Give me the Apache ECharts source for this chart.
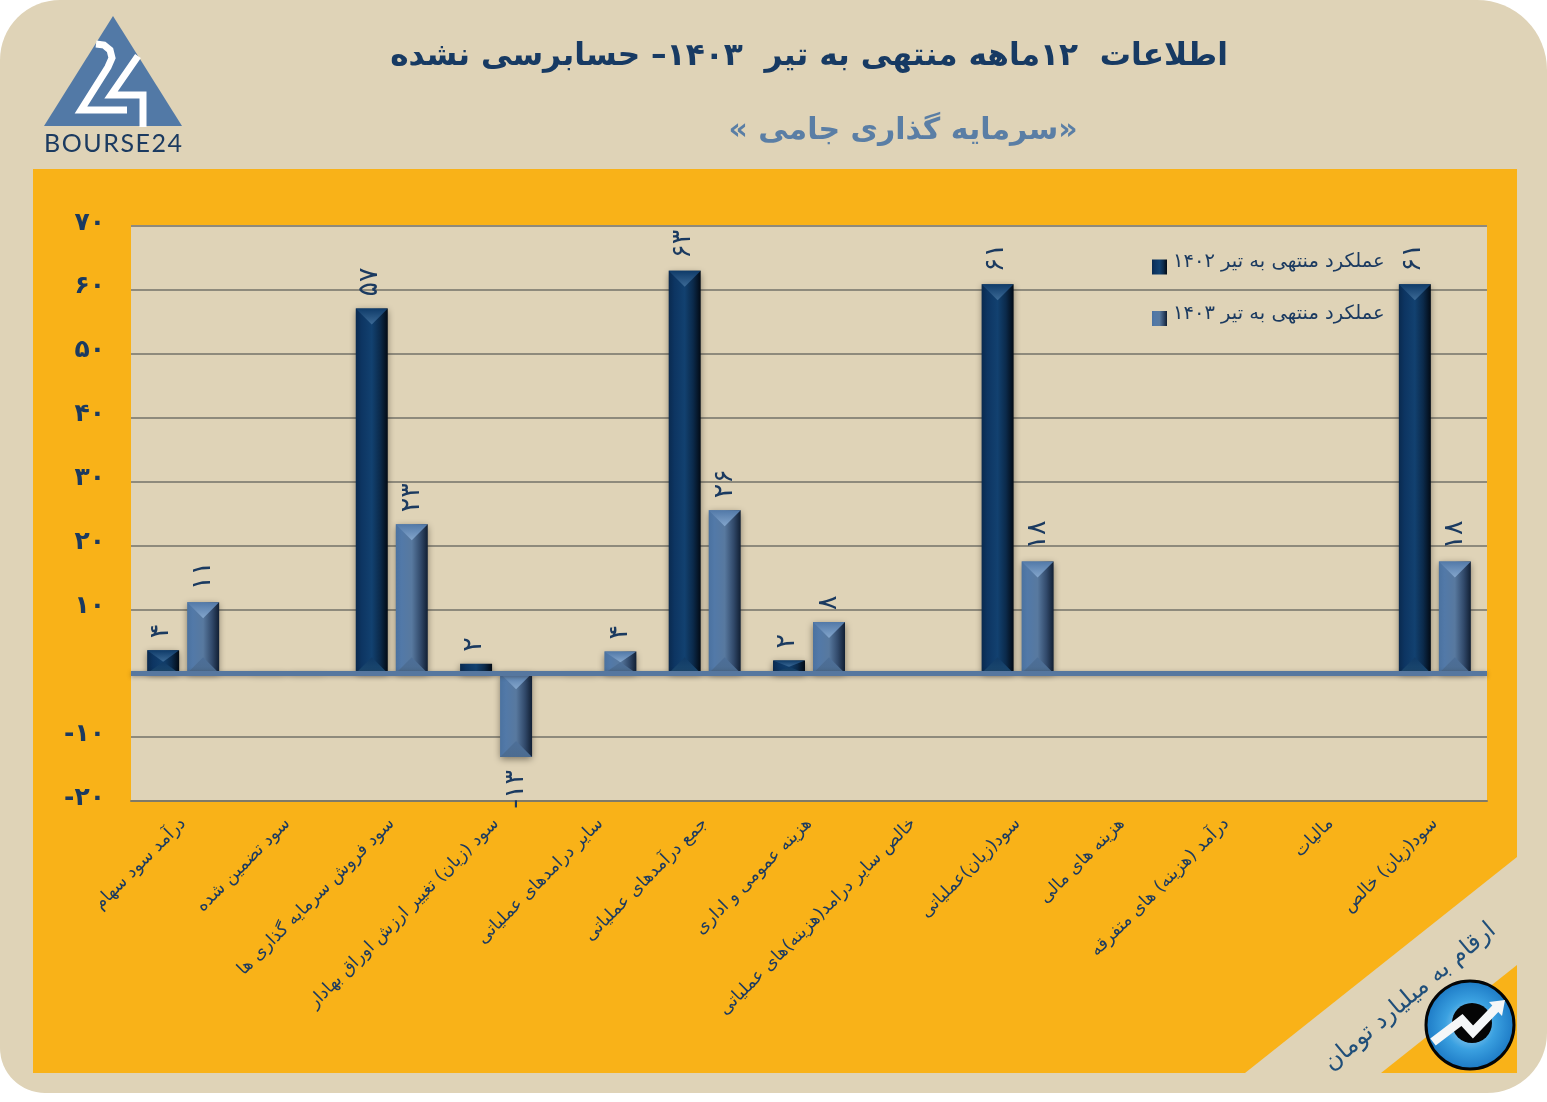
<!DOCTYPE html>
<html lang="fa" dir="ltr">
<head>
<meta charset="utf-8">
<title>سرمایه گذاری جامی</title>
<script src="https://cdn.jsdelivr.net/npm/echarts@6/dist/echarts.min.js"></script>
<style>html,body{margin:0;padding:0;background:#fff}#c{width:1547px;height:1102px}</style>
</head>
<body>
<div id="c"></div>
<script>
const categories = [
  'درآمد سود سهام','سود تضمین شده','سود فروش سرمایه گذاری ها',
  'سود (زیان) تغییر ارزش اوراق بهادار','سایر درامدهای عملیاتی','جمع درآمدهای عملیاتی',
  'هزینه عمومی و اداری','خالص سایر درامد(هزینه)های عملیاتی','سود(زیان)عملیاتی',
  'هزینه های مالی','درآمد (هزینه) های متفرقه','مالیات','سود(زیان) خالص'
];
const series1402Name = 'عملکرد منتهی به تیر ۱۴۰۲';
const series1403Name = 'عملکرد منتهی به تیر ۱۴۰۳';
const values1402 = [3.6, 0.1, 57.1, 1.5, 0.1, 63, 2, null, 60.9, null, null, null, 60.9];
const values1403 = [11.1, 0.1, 23.3, -13.1, 3.4, 25.5, 8, null, 17.5, null, null, null, 17.5];
const labels1402 = ['۴','','۵۷','۲','','۶۳','۲','','۶۱','','','','۶۱'];
const labels1403 = ['۱۱','','۲۳','-۱۳','۴','۲۶','۸','','۱۸','','','','۱۸'];
const yTickLabels = {'70':'۷۰','60':'۶۰','50':'۵۰','40':'۴۰','30':'۳۰','20':'۲۰','10':'۱۰','0':'','-10':'-۱۰','-20':'-۲۰'};
const titleText = '\u200fاطلاعات  ۱۲ماهه منتهی به تیر  ۱۴۰۳– حسابرسی نشده';
const subtitleText = '\u200f«سرمایه گذاری جامی »\u200f';
const unitText = 'ارقام به میلیارد تومان';
const brandText = 'B\u200aO\u200aU\u200aR\u200aS\u200aE\u200a2\u200a4';

const FONT = '"DejaVu Sans", sans-serif';
const NAVY = '#1b3a60';
const BEIGE = '#dfd3b7';
const ORANGE = '#f9b218';

const grad = stops => ({type:'linear',x:0,y:0,x2:1,y2:0,colorStops:stops.map(s=>({offset:s[0],color:s[1]}))});
const vgrad = (a,b) => ({type:'linear',x:0,y:0,x2:0,y2:1,colorStops:[{offset:0,color:a},{offset:1,color:b}]});
const darkFill = grad([[0,'#0a2a4f'],[0.18,'#0d3562'],[0.5,'#124170'],[0.76,'#0b2a4b'],[1,'#020a14']]);
const lightFill = grad([[0,'#4b72a0'],[0.18,'#5279a8'],[0.5,'#58799f'],[0.78,'#31496a'],[1,'#111f33']]);

function bevel(sign, topColors, botColors){
  return function(params, api){
    const i = api.value(0), v = api.value(1);
    if (v == null || isNaN(v)) return;
    const p0 = api.coord([i,0]), p1 = api.coord([i,v]);
    const cx = p0[0] + sign*20, hw = 16;
    const top = Math.min(p0[1],p1[1]), bot = Math.max(p0[1],p1[1]);
    const h = bot-top;
    if (h < 10) return;
    const d = Math.min(hw, h/2);
    return {type:'group',children:[
      {type:'polygon',shape:{points:[[cx-hw,top],[cx+hw,top],[cx,top+d]]},
       style:{fill:vgrad(topColors[0],topColors[1])}},
      {type:'polygon',shape:{points:[[cx-hw,bot],[cx+hw,bot],[cx,bot-d]]},
       style:{fill:vgrad(botColors[0],botColors[1])}}
    ]};
  };
}
const pairs = arr => arr.map((v,i)=>[i,v]);
const baseLabel = (labels, dist) => ({
  show:true, position:'top', rotate:90, distance:dist, align:'left', verticalAlign:'middle',
  fontFamily:FONT, fontSize:27, color:NAVY,
  formatter:p=>labels[p.dataIndex]
});
const barData = arr => arr.map(v => v !== null && v < 0
  ? {value:v,label:{position:'bottom',align:'right',distance:10}}
  : v);
const barShadow = {shadowBlur:7, shadowColor:'rgba(40,35,25,.55)', shadowOffsetY:2};

const option = {
  animation:false,
  textStyle:{fontFamily:FONT},
  title:[
    {text:titleText,left:804,top:36,textAlign:'center',textStyle:{fontFamily:FONT,fontWeight:'bold',fontSize:31.2,color:'#173a63'}},
    {text:subtitleText,left:898,top:111,textAlign:'center',textStyle:{fontFamily:FONT,fontWeight:'bold',fontSize:30,color:'#5a7ea5'}}
  ],
  legend:{
    orient:'vertical',left:1147,top:247,itemWidth:15,itemHeight:15,itemGap:29,
    data:[series1402Name,series1403Name],selectedMode:false,icon:'rect',
    formatter:'{a|{name}}',
    textStyle:{rich:{a:{fontFamily:FONT,fontSize:19.5,color:NAVY,padding:[0,0,10,1]}}}
  },
  grid:{left:131,right:60,top:226,bottom:301,show:true,backgroundColor:BEIGE,borderWidth:0},
  xAxis:{
    type:'category',data:categories,
    axisLine:{onZero:false,lineStyle:{color:'#7f7a68',width:2}},
    axisTick:{show:false},
    axisLabel:{interval:0,rotate:45,margin:20,fontFamily:FONT,fontSize:17.5,color:NAVY,hideOverlap:false}
  },
  yAxis:{
    type:'value',min:-20,max:70,interval:10,
    axisLine:{show:false},axisTick:{show:false},
    splitLine:{lineStyle:{color:'#8e8a7c',width:2}},
    axisLabel:{margin:26,
      formatter:v=>yTickLabels[String(v)]?'{a|'+yTickLabels[String(v)]+'}':'',
      rich:{a:{fontFamily:FONT,fontWeight:'bold',fontSize:25,color:NAVY,padding:[0,0,6,0]}}}
  },
  series:[
    {name:series1402Name,type:'bar',data:barData(values1402),barWidth:32,barGap:'25%',
     itemStyle:Object.assign({color:darkFill},barShadow),label:baseLabel(labels1402,15),labelLayout:{dx:-3,dy:-2},
     markLine:{silent:true,symbol:'none',label:{show:false},z:5,
       lineStyle:{color:'#56779f',width:5,type:'solid',shadowBlur:4,shadowColor:'rgba(40,35,25,.35)',shadowOffsetY:1},
       data:[{yAxis:0}]}},
    {name:series1403Name,type:'bar',data:barData(values1403),barWidth:32,barGap:'25%',
     itemStyle:Object.assign({color:lightFill},barShadow),label:baseLabel(labels1403,15),labelLayout:{dx:-3}},
    {name:'bevel1402',type:'custom',data:pairs(values1402),encode:{x:0,y:1},z:3,silent:true,
     renderItem:bevel(-1,['#0f3b69','#3c6a96'],['#103a66','#1d4a70'])},
    {name:'bevel1403',type:'custom',data:pairs(values1403),encode:{x:0,y:1},z:3,silent:true,
     renderItem:bevel(1,['#5279a8','#84a6cc'],['#4d6f98','#4c6c90'])}
  ],
  graphic:[
    {type:'rect',z:-3,silent:true,shape:{x:0,y:0,width:1547,height:1093,r:[60,70,60,45]},style:{fill:BEIGE}},
    {type:'polygon',z:-2,silent:true,shape:{points:[[33,169],[1517,169],[1517,857],[1245,1073],[33,1073]]},style:{fill:ORANGE}},
    {type:'polygon',z:-2,silent:true,shape:{points:[[1517,965],[1517,1073],[1381,1073]]},style:{fill:ORANGE}},
    {type:'polygon',silent:true,shape:{points:[[113,16],[182,126],[44,126]]},style:{fill:'#5279a6'}},
    {type:'polyline',silent:true,shape:{points:[[96,44],[104,45],[110,50],[112,58],[108,67],[81,110],[127,110]]},
     style:{fill:'none',stroke:'#fff',lineWidth:7}},
    {type:'polyline',silent:true,shape:{points:[[138,56],[111,95],[143,95],[143,127]]},
     style:{fill:'none',stroke:'#fff',lineWidth:7}},
    {type:'text',silent:true,x:113,y:144,style:{text:brandText,fontFamily:'Lato, sans-serif',fontSize:25,fill:NAVY,align:'center',verticalAlign:'middle'}},
    {type:'text',silent:true,x:1410,y:997,rotation:40*Math.PI/180,
     style:{text:unitText,fontFamily:FONT,fontSize:24,fill:'#1f4e79',align:'center',verticalAlign:'middle'}},
    {type:'circle',silent:true,z:6,shape:{cx:1470,cy:1025,r:44},
     style:{fill:{type:'radial',x:.5,y:.5,r:.5,colorStops:[{offset:0,color:'#bfe4f8'},{offset:.55,color:'#3aa0e0'},{offset:1,color:'#1b78c4'}]},stroke:'#050505',lineWidth:3}},
    {type:'circle',silent:true,z:6,shape:{cx:1472,cy:1023,r:20},style:{fill:'#050505'}},
    {type:'polyline',silent:true,z:7,shape:{points:[[1433,1042],[1462,1020],[1473,1032],[1496,1008]]},
     style:{fill:'none',stroke:'#f5f7f8',lineWidth:9}},
    {type:'polygon',silent:true,z:7,shape:{points:[[1489,1002],[1505,1000],[1502,1016]]},style:{fill:'#f5f7f8'}}
  ]
};
echarts.init(document.getElementById('c'),null,{renderer:'canvas'}).setOption(option);
</script>
</body>
</html>
